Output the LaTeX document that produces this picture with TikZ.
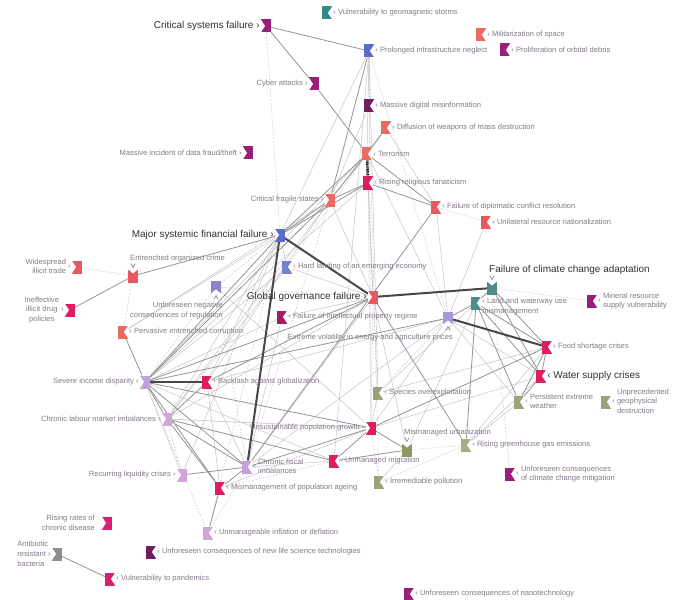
\documentclass[tikz,border=0pt]{standalone}
\usepackage{fontspec}
\setmainfont{Liberation Sans}
\usetikzlibrary{calc}
\pgfdeclarelayer{bg}
\pgfsetlayers{bg,main}

% risk category colours
\definecolor{geoA}{HTML}{EA6B62}
\definecolor{geoB}{HTML}{E9575F}
\definecolor{soc}{HTML}{E01D5C}
\definecolor{socB}{HTML}{DA1F70}
\definecolor{tec}{HTML}{9A1F78}
\definecolor{tecD}{HTML}{6E1E5E}
\definecolor{tecR}{HTML}{A31C5E}
\definecolor{blu}{HTML}{5A6DC6}
\definecolor{bluB}{HTML}{7480D2}
\definecolor{lavA}{HTML}{8F84CC}
\definecolor{lavB}{HTML}{A796DA}
\definecolor{lilA}{HTML}{C2A0DA}
\definecolor{lilB}{HTML}{D2A4DA}
\definecolor{env}{HTML}{9DA178}
\definecolor{envD}{HTML}{8C985E}
\definecolor{envL}{HTML}{A8AC84}
\definecolor{cTeal}{HTML}{2E8B89}
\definecolor{cTealB}{HTML}{4F8E84}
\definecolor{gry}{HTML}{8E8E8E}
\definecolor{txt}{HTML}{857A88}
\definecolor{txtB}{HTML}{333333}
\definecolor{lnk}{HTML}{9A8E9C}

\tikzset{
  ic/.style={rectangle, minimum width=10bp, minimum height=13bp, inner sep=0pt, outer sep=0pt, fill=#1},
  nR/.style={path picture={\fill[white] ([xshift=0.6bp,yshift=0.6bp]path picture bounding box.north east)
      -- ([xshift=-4bp]path picture bounding box.east)
      -- ([xshift=0.6bp,yshift=-0.6bp]path picture bounding box.south east) -- cycle;}},
  nL/.style={path picture={\fill[white] ([xshift=-0.6bp,yshift=0.6bp]path picture bounding box.north west)
      -- ([xshift=4bp]path picture bounding box.west)
      -- ([xshift=-0.6bp,yshift=-0.6bp]path picture bounding box.south west) -- cycle;}},
  nT/.style={path picture={\fill[white] ([xshift=-0.6bp,yshift=0.6bp]path picture bounding box.north west)
      -- ([yshift=-4bp]path picture bounding box.north)
      -- ([xshift=0.6bp,yshift=0.6bp]path picture bounding box.north east) -- cycle;}},
  nB/.style={path picture={\fill[white] ([xshift=-0.6bp,yshift=-0.6bp]path picture bounding box.south west)
      -- ([yshift=4bp]path picture bounding box.south)
      -- ([xshift=0.6bp,yshift=-0.6bp]path picture bounding box.south east) -- cycle;}},
  lab/.style={font=\fontsize{7.6}{10}\selectfont, text=txt, inner sep=0pt},
  labbig/.style={font=\fontsize{10}{12}\selectfont, text=txtB, inner sep=0pt},
  chev/.style={draw=txt, line width=0.6bp},
  strong/.style={draw=black!72, line width=2bp},
  dotlink/.style={draw=black!85, line width=2.6bp, dash pattern=on 1.1bp off 0.6bp},
  med/.style={draw=black!42, line width=0.8bp},
  weak/.style={draw=lnk!55, line width=0.5bp},
  faint/.style={draw=black!20, line width=0.5bp, dash pattern=on 2bp off 1.5bp},
}

% icon with label to its right / left
\newcommand\rR[6]{%
  \node[ic=#4,nR] (#1) at (#2,#3) {};
  \node[#5,anchor=west] (#1-t) at ([xshift=1.2bp]#1.east) {‹ #6};}
\newcommand\rL[6]{%
  \node[ic=#4,nL] (#1) at (#2,#3) {};
  \node[#5,anchor=east] (#1-t) at ([xshift=-1.2bp]#1.west) {#6 ›};}

\begin{document}
\begin{tikzpicture}[x=1bp,y=-1bp]
\useasboundingbox (0,0) rectangle (679,600);

% ---- risks ----
\rL{csf}{266}{26}{tec}{labbig}{Critical systems failure}
\rR{geo}{327}{13}{cTeal}{lab}{Vulnerability to geomagnetic storms}
\rR{mil}{481}{35}{geoA}{lab}{Militarization of space}
\rR{orb}{505}{50}{tec}{lab}{Proliferation of orbital debris}
\rR{pin}{369}{51}{blu}{lab}{Prolonged infrastructure neglect}
\rL{cyb}{314}{84}{tec}{lab}{Cyber attacks}
\rR{mdm}{369}{106}{tecD}{lab}{Massive digital misinformation}
\rR{wmd}{386}{128}{geoA}{lab}{Diffusion of weapons of mass destruction}
\rL{dft}{248}{153}{tec}{lab}{Massive incident of data fraud/theft}
\rR{ter}{367}{154}{geoA}{lab}{Terrorism}
\rR{rrf}{368}{183}{soc}{lab}{Rising religious fanaticism}
\rL{cfs}{330}{200}{geoA}{lab}{Critical fragile states}
\rR{fdc}{436}{207}{geoB}{lab}{Failure of diplomatic conflict resolution}
\rR{urn}{486}{222}{geoB}{lab}{Unilateral resource nationalization}
\rL{msf}{280}{235}{blu}{labbig}{Major systemic financial failure}
\rL{wit}{77}{267}{geoB}{lab}{\begin{tabular}{@{}r@{}}Widespread\\illicit trade\end{tabular}}

\node[ic=geoB,nT] (eoc) at (133,276) {};
\node[lab,anchor=base west] (eoc-t) at ([shift={(-3,-9)}]eoc.north) {Entrenched organized crime};
\draw[chev] ([shift={(-2.2,-6)}]eoc.north) -- ([shift={(0,-2)}]eoc.north) -- ([shift={(2.2,-6)}]eoc.north);

\rR{hle}{287}{267}{bluB}{lab}{Hard landing of an emerging economy}
\rL{ggf}{373}{297}{geoB}{labbig}{Global governance failure}

\node[ic=cTealB,nT] (fca) at (492,288) {};
\node[labbig,anchor=base west] (fca-t) at ([shift={(-3,-9)}]fca.north) {Failure of climate change adaptation};
\draw[chev] ([shift={(-2.2,-6)}]fca.north) -- ([shift={(0,-2)}]fca.north) -- ([shift={(2.2,-6)}]fca.north);

\rR{mrs}{592}{301}{tec}{lab}{\begin{tabular}{@{}l@{}}Mineral resource\\supply vulnerability\end{tabular}}
\rL{idp}{70}{310}{soc}{lab}{\begin{tabular}{@{}c@{}}Ineffective\\illicit drug\\policies\end{tabular}}

\node[ic=lavA,nB] (unr) at (216,287) {};
\node[lab,anchor=north east,align=right] (unr-t) at ([shift={(7,8)}]unr.south) {Unforeseen negative\\consequences of regulation};
\draw[chev] ([shift={(-2.2,6)}]unr.south) -- ([shift={(0,2)}]unr.south) -- ([shift={(2.2,6)}]unr.south);

\node[ic=cTealB,nR] (lwm) at (476,303) {};
\node[lab,anchor=west,align=left] (lwm-t) at ([xshift=1.2bp,yshift=-3.5bp]lwm.east) {‹ Land and waterway use\\mismanagement};

\rR{fip}{282}{317}{tecR}{lab}{Failure of intellectual property regime}

\node[ic=lavB,nB] (evp) at (448,318) {};
\node[lab,anchor=north east] (evp-t) at ([shift={(5,9)}]evp.south) {Extreme volatility in energy and agriculture prices};
\draw[chev] ([shift={(-2.2,6)}]evp.south) -- ([shift={(0,2)}]evp.south) -- ([shift={(2.2,6)}]evp.south);

\rR{pec}{123}{332}{geoA}{lab}{Pervasive entrenched corruption}
\rR{fsc}{547}{347}{soc}{lab}{Food shortage crises}
\rR{wsc}{541}{376}{soc}{labbig}{Water supply crises}
\rL{sid}{145}{382}{lilA}{lab}{Severe income disparity}
\rR{bag}{207}{382}{soc}{lab}{Backlash against globalization}
\rR{sov}{378}{393}{env}{lab}{Species overexploitation}
\rR{pew}{519}{402}{env}{lab}{\begin{tabular}{@{}l@{}}Persistent extreme\\weather\end{tabular}}
\rR{ugd}{606}{402}{env}{lab}{\begin{tabular}{@{}l@{}}Unprecedented\\geophysical\\destruction\end{tabular}}
\rL{clm}{167}{419}{lilB}{lab}{Chronic labour market imbalances}
\rL{upg}{371}{428}{soc}{lab}{Unsustainable population growth}

\node[ic=envD,nT] (mur) at (407,450) {};
\node[lab,anchor=base west] (mur-t) at ([shift={(-3,-9)}]mur.north) {Mismanaged urbanization};
\draw[chev] ([shift={(-2.2,-6)}]mur.north) -- ([shift={(0,-2)}]mur.north) -- ([shift={(2.2,-6)}]mur.north);

\rR{rge}{466}{445}{envL}{lab}{Rising greenhouse gas emissions}
\rL{rlc}{182}{475}{lilB}{lab}{Recurring liquidity crises}
\rR{cfi}{247}{467}{lilA}{lab}{\begin{tabular}{@{}l@{}}Chronic fiscal\\imbalances\end{tabular}}
\rR{umm}{334}{461}{soc}{lab}{Unmanaged migration}
\rR{irp}{379}{482}{env}{lab}{Irremediable pollution}
\rR{ucm}{510}{474}{tec}{lab}{\begin{tabular}{@{}l@{}}Unforeseen consequences\\of climate change mitigation\end{tabular}}
\rR{mpa}{220}{488}{soc}{lab}{Mismanagement of population ageing}

\node[ic=socB,nL] (rcd) at (107,523) {};
\node[lab,anchor=east,align=right] (rcd-t) at ([xshift=-7bp]rcd.west) {Rising rates of\\chronic disease};

\rR{uid}{208}{533}{lilB}{lab}{Unmanageable inflation or deflation}

\node[ic=gry,nL] (arb) at (57,554) {};
\node[lab,anchor=east,align=left] (arb-t) at ([xshift=-1.2bp]arb.west) {Antibiotic\\resistant ›\\bacteria};

\rR{uls}{151}{552}{tecD}{lab}{Unforeseen consequences of new life science technologies}
\rR{vtp}{110}{579}{socB}{lab}{Vulnerability to pandemics}
\rR{unt}{409}{594}{tec}{lab}{Unforeseen consequences of nanotechnology}

% ---- interconnections ----
\begin{pgfonlayer}{bg}
\fill[white] (0,0) rectangle (679,600);

\foreach \a/\b in {pin/msf, pin/ter, pin/umm, pin/sov, mdm/cfs, wmd/fdc, wmd/cfs, rrf/ggf,
    cfs/ggf, cfs/bag, cfs/pec, msf/clm, msf/rlc, msf/hle, msf/bag, msf/pec, hle/ggf, hle/sid,
    fip/ggf, fip/sid, ggf/cfi, ggf/clm, ggf/mur, evp/cfi, evp/upg, evp/wsc, evp/pew, evp/bag,
    lwm/sov, lwm/mur, rge/wsc, rge/fsc, rge/pew, upg/clm, umm/sid, cfi/bag, sid/rlc, mur/irp,
    urn/evp, ter/ggf, ter/evp, fdc/evp, sov/upg, sov/fsc, upg/wsc, umm/cfi, mpa/upg, bag/mpa,
    cfs/clm, rrf/sid, ter/sid, fip/cfi, hle/clm, unr/upg}
  \draw[weak] (\a) -- (\b);

\foreach \a/\b in {csf/msf, eoc/wit, eoc/pec, unr/msf, unr/sid, unr/ggf, unr/cfi, fca/mrs,
    fca/ucm, mdm/irp, pin/upg, pin/evp, rrf/upg, sov/evp, sov/ggf, upg/irp, upg/ggf, uid/cfi,
    mur/rge, irp/rge, umm/mpa, clm/rlc, ter/hle, cfs/cfi, msf/uid, fdc/urn, wmd/mdm, pin/mdm,
    sid/uid, clm/upg}
  \draw[faint] (\a) -- (\b);

\foreach \a/\b in {csf/pin, csf/cyb, cyb/ter, ter/fdc, rrf/fdc, fdc/cfi, wmd/ter, cfs/ter,
    cfs/rrf, cfs/msf, cfs/sid, msf/sid, msf/eoc, ggf/sid, ggf/bag, ggf/rge, sid/cfi, sid/clm,
    sid/pec, sid/mpa, sid/upg, sid/evp, bag/clm, clm/cfi, clm/mpa, rlc/cfi, cfi/mpa, mpa/uid,
    upg/fsc, upg/mur, upg/umm, eoc/idp, lwm/fsc, lwm/wsc, lwm/rge, lwm/pew, fca/fsc, fca/wsc,
    fsc/wsc, wsc/pew, fsc/pew, evp/lwm, fca/lwm, arb/vtp, pin/cfs, ter/msf, rrf/msf, umm/mur,
    upg/cfi, clm/umm}
  \draw[med] (\a) -- (\b);

\draw[strong] (msf) -- (ggf);
\draw[strong] (msf) -- (cfi);
\draw[strong] (ggf) -- (fca);
\draw[strong] (evp) -- (fsc);
\draw[strong] (sid) -- (bag);
\draw[dotlink] (ter) -- (rrf);
\end{pgfonlayer}
\end{tikzpicture}
\end{document}
